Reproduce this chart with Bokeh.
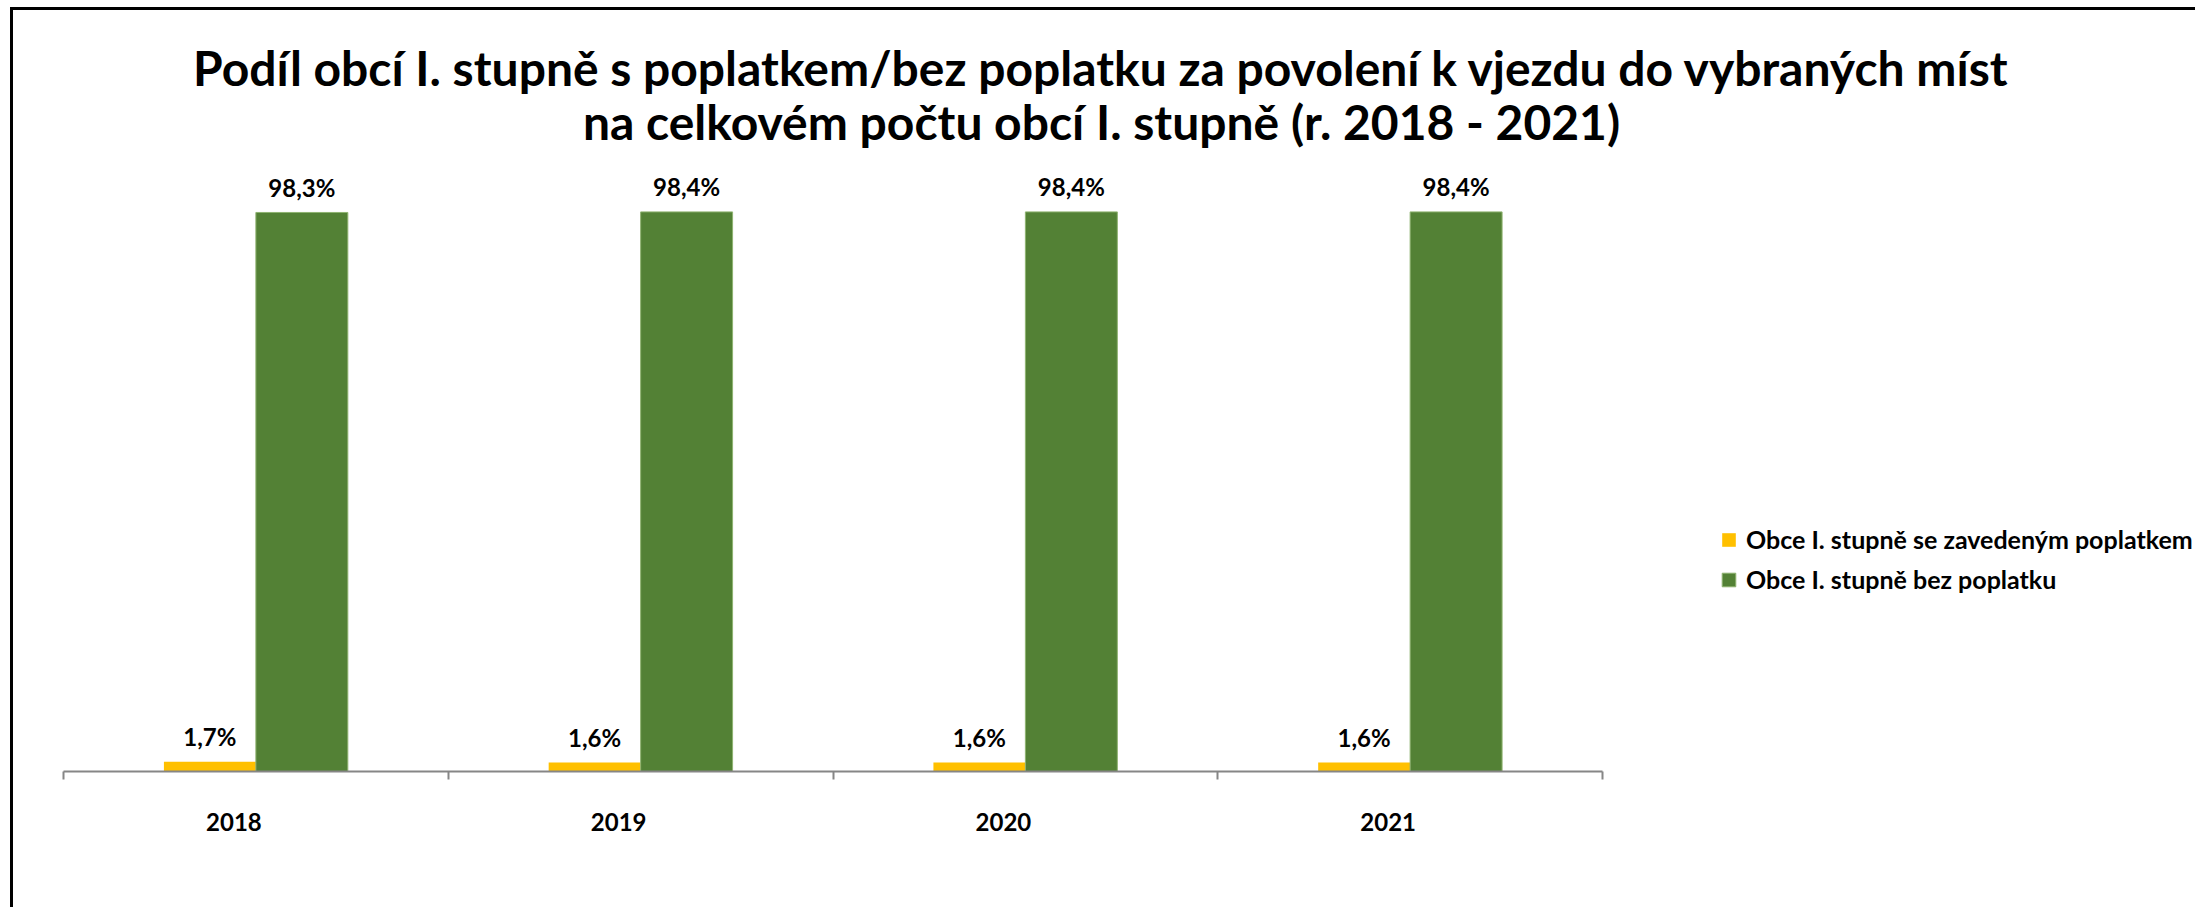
from bokeh.plotting import figure
from bokeh.models import ColumnDataSource, Range1d, FixedTicker, Legend, LegendItem, Label
from bokeh.transform import dodge
from bokeh.core.properties import value
from bokeh.embed import file_html
from bokeh.resources import INLINE

# ---- data ----
years = ["2018", "2019", "2020", "2021"]
with_fee = [1.7, 1.6, 1.6, 1.6]
without_fee = [98.3, 98.4, 98.4, 98.4]
series_names = ["Obce I. stupně se zavedeným poplatkem", "Obce I. stupně bez poplatku"]
title_lines = [
    "Podíl obcí I. stupně s poplatkem/bez poplatku za povolení k vjezdu do vybraných míst",
    "na celkovém počtu obcí I. stupně (r. 2018 - 2021)",
]


def fmt(v):
    return f"{v:.1f}".replace(".", ",") + "%"


n = len(years)
pos = [i + 0.5 for i in range(n)]
src = ColumnDataSource(dict(
    pos=pos, year=years, a=with_fee, b=without_fee,
    la=[fmt(v) for v in with_fee], lb=[fmt(v) for v in without_fee],
))

FONT = "Lato"
W, H = 2185, 900
BOTTOM = 139          # space below the axis line
PLOT_LEFT = 50        # canvas px where the category axis begins
PLOT_W = 1539         # canvas px spanned by the categories
PX_PER_PCT = 5.687
BW = 0.239
LABEL_SHIFT = 0.057   # category labels sit slightly left of the group centre
YELLOW = "#FFC000"
GREEN = "#538135"
AXIS = "#868686"

u = PLOT_W / n
x0 = -PLOT_LEFT / u
frame_h = H - BOTTOM

p = figure(width=W, height=H, output_backend="svg", toolbar_location=None,
           x_range=Range1d(x0, x0 + W / u), y_range=Range1d(0, frame_h / PX_PER_PCT),
           y_axis_location=None,
           min_border_left=0, min_border_right=0,
           min_border_top=0, min_border_bottom=BOTTOM)
p.outline_line_color = None
p.grid.visible = False
p.background_fill_color = "white"
p.border_fill_color = "white"
p.styles = {"border-left": "3px solid black", "border-top": "3px solid black",
            "margin-left": "10px", "margin-top": "7px"}

r1 = p.vbar(x=dodge("pos", -BW / 2), top="a", width=BW, source=src,
            fill_color=YELLOW, line_color=None)
r2 = p.vbar(x=dodge("pos", BW / 2), top="b", width=BW, source=src,
            fill_color=GREEN, line_color="#8fb370", line_width=1)

for off, col, lab in ((-BW / 2, "a", "la"), (BW / 2, "b", "lb")):
    p.text(x=dodge("pos", off), y=col, text=lab, source=src,
           text_align="center", text_baseline="middle", y_offset=-25,
           text_font=value(FONT), text_font_style="bold", text_font_size="24px",
           text_color="black")

label_ticks = [round(x - LABEL_SHIFT, 3) for x in pos]
ax = p.xaxis[0]
ax.bounds = (0, n)
ax.ticker = FixedTicker(ticks=label_ticks, minor_ticks=list(range(n + 1)))
ax.major_label_overrides = {x: y for x, y in zip(label_ticks, years)}
ax.major_tick_line_color = None
ax.major_tick_out = 0
ax.major_tick_in = 0
ax.minor_tick_line_color = AXIS
ax.minor_tick_line_width = 2
ax.minor_tick_out = 8
ax.minor_tick_in = 0
ax.axis_line_color = AXIS
ax.axis_line_width = 2
ax.major_label_standoff = 33
ax.major_label_text_font = FONT
ax.major_label_text_font_style = "bold"
ax.major_label_text_font_size = "24px"
ax.major_label_text_color = "black"

# title (two centred lines), screen units measured from the frame's bottom-left
for txt, yy in zip(title_lines, (frame_h - 57, frame_h - 111)):
    p.add_layout(Label(x=1088, y=yy, x_units="screen", y_units="screen", text=txt,
                       text_align="center", text_baseline="middle",
                       text_font=FONT, text_font_style="bold", text_font_size="48px",
                       text_color="black"))

legend = Legend(items=[LegendItem(label=series_names[0], renderers=[r1]),
                       LegendItem(label=series_names[1], renderers=[r2])],
                location=(1707, 177), padding=0, margin=0, spacing=10,
                glyph_width=17, glyph_height=17, label_height=28, label_standoff=9,
                label_text_font=FONT, label_text_font_style="bold",
                label_text_font_size="25px", label_text_color="black",
                border_line_color=None, background_fill_alpha=0)
p.add_layout(legend)

open("out.html", "w").write(file_html(p, INLINE))
